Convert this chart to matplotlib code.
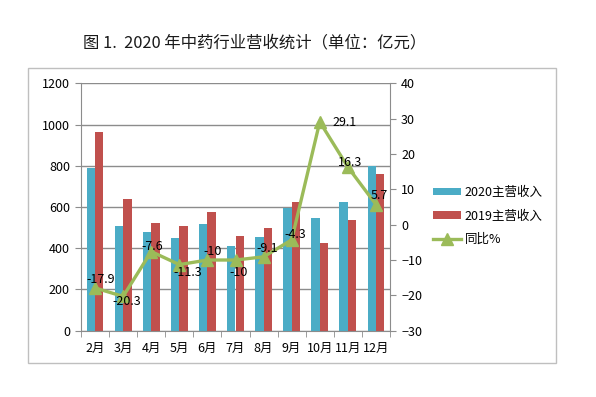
import matplotlib
matplotlib.use('Agg')
import matplotlib.pyplot as plt
from matplotlib.patches import Rectangle
import numpy as np

plt.rcParams['font.family'] = ['Noto Sans CJK SC', 'DejaVu Sans']

months = ['2月', '3月', '4月', '5月', '6月', '7月', '8月', '9月', '10月', '11月', '12月']
rev_2020 = [790, 509, 481, 452, 518, 410, 454, 597, 548, 626, 800]
rev_2019 = [962, 640, 520, 509, 574, 458, 500, 624, 424, 539, 760]
yoy = [-17.9, -20.3, -7.6, -11.3, -10, -10, -9.1, -4.3, 29.1, 16.3, 5.7]
yoy_labels = ['-17.9', '-20.3', '-7.6', '-11.3', '-10', '-10', '-9.1', '-4.3', '29.1', '16.3', '5.7']
# label offsets in pixels
label_off = [(5.5, 8), (4, -5), (1, 5.5), (8.5, -8), (5.5, 9), (3.5, -12.5),
             (4, 8), (4, 5), (24.5, -1), (2.5, 4.5), (3.5, 9)]

blue = '#4BACC6'
red = '#C0504D'
green = '#9BBB59'
grid_c = '#8c8c8c'

fig = plt.figure(figsize=(5.96, 3.97), dpi=100)

# outer chart frame
fig.patches.append(Rectangle((28 / 596, 1 - 363 / 397), (556 - 28) / 596, (363 - 68) / 397,
                             transform=fig.transFigure, fill=False, edgecolor='#bfbfbf', linewidth=1))

fig.text(255 / 596, 1 - 43 / 397, '图 1.  2020 年中药行业营收统计（单位：亿元）',
         ha='center', va='center', fontsize=11.8, color='#1a1a1a')

ax = fig.add_axes([81 / 596, 1 - 330.7 / 397, 309 / 596, 247.4 / 397])
x = np.arange(len(months))
w = 0.3
ax.bar(x - w / 2, rev_2020, width=w, color=blue, label='2020主营收入', zorder=2)
ax.bar(x + w / 2, rev_2019, width=w, color=red, label='2019主营收入', zorder=2)
ax.set_ylim(0, 1200)
ax.set_yticks(range(0, 1201, 200))
ax.set_xlim(-0.5, len(months) - 0.5)
ax.set_xticks(x)
ax.set_xticklabels(months)
ax.set_xticks(np.arange(-0.5, len(months), 1), minor=True)
ax.tick_params(axis='x', which='major', length=0, pad=8, labelsize=9)
ax.tick_params(axis='x', which='minor', length=4, color=grid_c, direction='out')
ax.tick_params(axis='y', length=4, color=grid_c, labelsize=9, pad=4)
ax.yaxis.grid(True, color=grid_c, linewidth=1, zorder=0)
ax.set_axisbelow(True)
for s in ['top', 'right']:
    ax.spines[s].set_visible(False)
ax.spines['left'].set_color(grid_c)
ax.spines['bottom'].set_color(grid_c)

ax2 = ax.twinx()
ax2.plot(x, yoy, color=green, linewidth=2.4, marker='^', markersize=8,
         markerfacecolor=green, markeredgecolor=green, label='同比%', zorder=3)
ax2.set_ylim(-30, 40)
ax2.set_yticks(range(-30, 41, 10))
ax2.tick_params(axis='y', length=4, color=grid_c, labelsize=9, pad=4)
for s in ['top', 'left', 'bottom']:
    ax2.spines[s].set_visible(False)
ax2.spines['right'].set_color(grid_c)

for xi, v, t, off in zip(x, yoy, yoy_labels, label_off):
    ax2.annotate(t, (xi, v), xytext=off, textcoords='offset pixels',
                 ha='center', va='center', fontsize=9, color='black', zorder=4)

h1, l1 = ax.get_legend_handles_labels()
h2, l2 = ax2.get_legend_handles_labels()
fig.legend(h1 + h2, l1 + l2, loc='center left', bbox_to_anchor=(422 / 596, 1 - 216 / 397),
           frameon=False, fontsize=9, handlelength=2.2, handleheight=0.6,
           labelspacing=0.85, handletextpad=0.3)

fig.savefig('out.png', dpi=100)
